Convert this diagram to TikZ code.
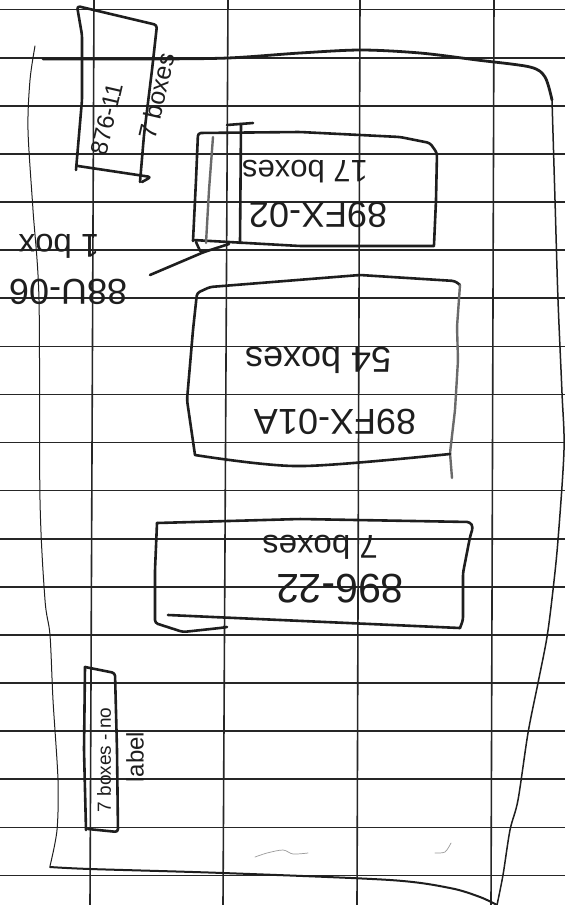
\documentclass[tikz,border=0pt]{standalone}
\usepackage{fontspec}
\setmainfont{Liberation Sans}
\definecolor{ink}{HTML}{1E1E1E}
\definecolor{gridc}{HTML}{262626}
\definecolor{grayink}{HTML}{6A6A6A}
\definecolor{faint}{HTML}{9A9A9A}
\begin{document}
\begin{tikzpicture}[x=1pt,y=-1pt,
  gridline/.style={draw=gridc,line width=1.6pt},
  pen/.style={draw=ink,line width=2.6pt,line cap=round,line join=round,rounded corners=3pt},
  graypen/.style={draw=grayink,line width=2.4pt,line cap=round,line join=round,rounded corners=3pt},
  border/.style={draw=ink,line cap=round,line join=round},
  scribble/.style={draw=faint,line width=0.7pt,line cap=round},
  hand/.style={text=ink,inner sep=0pt}]
\useasboundingbox (0,0) rectangle (565,905);
\fill[white] (0,0) rectangle (565,905);
% grid paper
\foreach \k in {0,...,18} \draw[gridline] (0,{9.6+48.1*\k}) -- (565,{9.6+48.1*\k});
\draw[gridline] (94,0) -- (90,905);
\draw[gridline] (228,0) -- (223,905);
\draw[gridline] (360,0) -- (357,905);
\draw[gridline] (494,0) -- (491,905);
% outer outline
\draw[border,line width=2.8pt] plot[smooth,tension=0.5] coordinates {(43,59) (150,59) (228,58) (300,53) (361,50) (420,53) (477,60) (530,67) (545,77) (552,100)};
\draw[border,line width=1.5pt] plot[smooth,tension=0.5] coordinates {(552,100) (555,200) (558,300) (562,393) (564,450) (558,540) (553,590) (547,637) (538,683) (528,733) (518,800) (510,830) (503,875) (497,905)};
\draw[border,line width=2pt] plot[smooth,tension=0.5] coordinates {(50,867) (90,869) (223,873) (390,880) (450,888) (480,897) (497,905)};
\draw[border,line width=1pt] plot[smooth,tension=0.5] coordinates {(35,46) (30,80) (28,130) (33,210) (39,300) (40,500) (45,600) (50,635) (53,700) (58,780) (57,830) (50,866)};
% box 1 (876-11)
\draw[pen] (76,170) -- (82,100) -- (82,35) -- (77,6) -- (157,25) -- (152,70) -- (144,135) -- (140,182);
\draw[pen] (78,166) -- (151,177) -- (142,182);
\node[hand,rotate=77,font=\fontsize{24}{24}\selectfont] (b1code) at (107,119) {876-11};
\node[hand,rotate=77,font=\fontsize{25}{25}\selectfont] (b1count) at (157,96) {7 boxes};
% box 2 (89FX-02)
\draw[pen] (193,241) -- (196,180) -- (198,133) -- (300,132) -- (400,137) -- (430,143) -- (437,153) -- (436,200) -- (434,245);
\draw[pen] (193,240) -- (300,246) -- (434,246);
\draw[graypen] (213,137) -- (209,190) -- (206,243);
\draw[pen] (241,124) -- (240,243);
\draw[pen] (227,125) -- (253,123);
\node[hand,rotate=180,font=\fontsize{31}{31}\selectfont] (b2count) at (305,172) {17 boxes};
\node[hand,rotate=180,font=\fontsize{36}{36}\selectfont] (b2code) at (318,215) {89FX-02};
% label 88U-06 with leader
\node[hand,rotate=180,font=\fontsize{33}{33}\selectfont] (lbcount) at (59,246) {1 box};
\node[hand,rotate=180,font=\fontsize{36}{36}\selectfont] (lbcode) at (68,292) {88U-06};
\coordinate (leadA) at (150,275);
\coordinate (leadB) at (204,252);
\draw[pen] (leadA) -- (leadB);
\draw[pen] (196,242) -- (201,253) -- (229,244);
% box 3 (89FX-01A)
\draw[pen] (195,455) -- (187,400) -- (193,330) -- (197,293) -- (210,287) -- (360,275) -- (455,281) -- (460,285);
\draw[graypen] (460,285) -- (457,327) -- (458,360) -- (455,410) -- (450,453) -- (452,478);
\draw[pen] plot[smooth,tension=0.5] coordinates {(195,455) (300,466) (450,454)};
\node[hand,rotate=180,font=\fontsize{36}{36}\selectfont] (b3count) at (318,360) {54 boxes};
\node[hand,rotate=180,font=\fontsize{36}{36}\selectfont] (b3code) at (335,422) {89FX-01A};
% box 4 (896-22)
\draw[pen] (157,523) -- (300,519) -- (470,522) -- (473,527) -- (470,537) -- (463,573) -- (463,620) -- (460,628);
\draw[pen] (168,615) -- (460,628);
\draw[pen] (157,523) -- (155,570) -- (155,623) -- (183,632) -- (220,628) -- (227,627);
\node[hand,rotate=180,font=\fontsize{33}{33}\selectfont] (b4count) at (320,547) {7 boxes};
\node[hand,rotate=180,font=\fontsize{41}{41}\selectfont] (b4code) at (340,589) {896-22};
% box 5 (no label)
\draw[pen] (85,667) -- (84,750) -- (86,830);
\draw[pen] (85,667) -- (115,673) -- (117,750) -- (118,832) -- (88,829);
\node[hand,rotate=90,font=\fontsize{19}{19}\selectfont] (b5a) at (104,760) {7 boxes - no};
\node[hand,rotate=90,font=\fontsize{24}{24}\selectfont] (b5b) at (135,757) {label};
% stray marks
\draw[scribble] plot[smooth] coordinates {(255,857) (267,853) (283,850) (293,854) (308,853)};
\draw[scribble] plot[smooth] coordinates {(435,853) (445,852) (451,843)};
\end{tikzpicture}
\end{document}
